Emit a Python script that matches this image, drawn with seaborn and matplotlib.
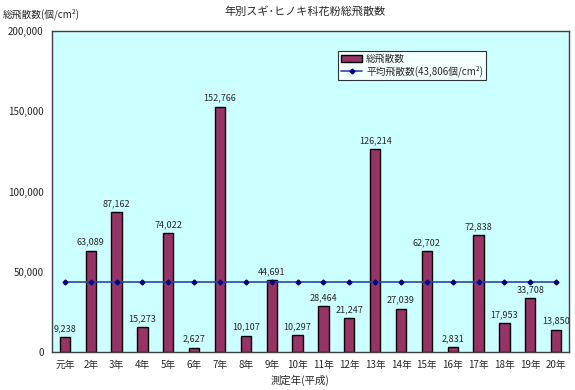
import matplotlib
matplotlib.use("Agg")
import matplotlib.pyplot as plt
import seaborn as sns
import pandas as pd
from matplotlib.ticker import FuncFormatter

years = ["元年", "2年", "3年", "4年", "5年", "6年", "7年", "8年", "9年", "10年",
         "11年", "12年", "13年", "14年", "15年", "16年", "17年", "18年", "19年", "20年"]
counts = [9238, 63089, 87162, 15273, 74022, 2627, 152766, 10107, 44691, 10297,
          28464, 21247, 126214, 27039, 62702, 2831, 72838, 17953, 33708, 13850]
average = 43806

sns.set_theme(style="white")
plt.rcParams['font.family'] = ['Noto Sans CJK JP', 'DejaVu Sans']

df = pd.DataFrame({"year": years, "count": counts})

fig = plt.figure(figsize=(5.75, 3.9), dpi=100)
ax = fig.add_axes([52/575, 1 - 352/390, (569-52)/575, (352-31)/390])
ax.set_facecolor("#CCFFFF")

sns.barplot(data=df, x="year", y="count", color="#993366", width=0.4,
            edgecolor="black", linewidth=1, saturation=1, ax=ax, label="総飛散数")
xs = list(range(len(years)))
ax.plot(xs, [average]*len(years), color="#2A48A8", marker="D", markersize=2.5,
        markerfacecolor="#000080", markeredgecolor="#000080",
        linewidth=1.2, label="平均飛散数(43,806個/cm²)")

for x, v in zip(xs, counts):
    ax.text(x, v + 2500, f"{v:,}", ha="center", va="bottom", fontsize=6.5)

ax.set_ylim(0, 200000)
ax.set_xlim(-0.5, len(years) - 0.5)
ax.set_yticks(range(0, 200001, 50000))
ax.yaxis.set_major_formatter(FuncFormatter(lambda v, p: f"{int(v):,}"))
ax.tick_params(axis="both", labelsize=7, length=0, pad=6)
for s in ax.spines.values():
    s.set_color("#404040")
    s.set_linewidth(1)
ax.set_xlabel("")
ax.set_ylabel("")

handles, labels = ax.get_legend_handles_labels()
order = [labels.index("総飛散数"), labels.index("平均飛散数(43,806個/cm²)")]
leg = ax.legend([handles[i] for i in order], [labels[i] for i in order],
                loc="upper left", bbox_to_anchor=((338-52)/517, 1 - (51-31)/321),
                fontsize=7, frameon=True, fancybox=False, edgecolor="black",
                borderpad=0.3, labelspacing=0.2, handlelength=2.2, handletextpad=0.4,
                borderaxespad=0)
leg.get_frame().set_linewidth(0.8)

fig.text(305/575, 1 - 12/390, "年別スギ･ヒノキ科花粉総飛散数", ha="center", va="center", fontsize=8)
fig.text(3/575, 1 - 14/390, "総飛散数(個/cm²)", ha="left", va="center", fontsize=7)
fig.text(300/575, 1 - 380/390, "測定年(平成)", ha="center", va="center", fontsize=7.5)

fig.savefig("out.png", dpi=100)
